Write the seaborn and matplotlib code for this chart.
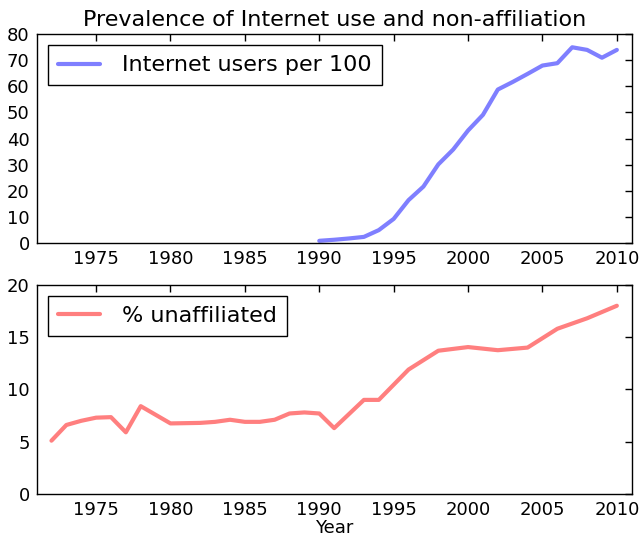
import numpy as np
import pandas as pd
import seaborn as sns
import matplotlib
matplotlib.use("Agg")
import matplotlib.pyplot as plt

# Internet users per 100 people
net_years = list(range(1990, 2011))
net_users = [0.8, 1.2, 1.7, 2.3, 4.9, 9.2, 16.4, 21.6, 30.1, 35.8, 43.1,
             49.1, 58.8, 61.7, 64.8, 68.0, 68.9, 75.0, 74.0, 71.0, 74.0]

# % religiously unaffiliated (survey years)
rel_years = [1972, 1973, 1974, 1975, 1976, 1977, 1978, 1980, 1982, 1983,
             1984, 1985, 1986, 1987, 1988, 1989, 1990, 1991, 1993, 1994,
             1996, 1998, 2000, 2002, 2004, 2006, 2008, 2010]
unaffiliated = [5.1, 6.6, 7.0, 7.3, 7.35, 5.9, 8.4, 6.75, 6.8, 6.9,
                7.1, 6.9, 6.9, 7.1, 7.7, 7.8, 7.7, 6.3, 9.0, 9.0,
                11.9, 13.7, 14.05, 13.75, 14.0, 15.8, 16.8, 18.0]

sns.set_style("white")
plt.rcParams['font.family'] = ['DejaVu Sans']
plt.rcParams['text.color'] = 'black'
plt.rcParams['axes.labelcolor'] = 'black'
plt.rcParams['xtick.color'] = 'black'
plt.rcParams['ytick.color'] = 'black'

df_net = pd.DataFrame({"Year": net_years, "val": net_users})
df_rel = pd.DataFrame({"Year": rel_years, "val": unaffiliated})

fig = plt.figure(figsize=(6.42, 5.35), dpi=100)
ax1 = fig.add_axes([0.057, 0.546, 0.927, 0.390])
ax2 = fig.add_axes([0.057, 0.0766, 0.927, 0.391])

sns.lineplot(data=df_net, x="Year", y="val", ax=ax1, color="blue", alpha=0.5,
             linewidth=3, label="Internet users per 100")
sns.lineplot(data=df_rel, x="Year", y="val", ax=ax2, color="red", alpha=0.5,
             linewidth=3, label="% unaffiliated")

ax1.set_ylim(0, 80)
ax1.set_yticks(range(0, 81, 10))
ax2.set_ylim(0, 20)
ax2.set_yticks([0, 5, 10, 15, 20])
for ax in (ax1, ax2):
    ax.set_xlim(1971, 2011)
    ax.set_xticks([1975, 1980, 1985, 1990, 1995, 2000, 2005, 2010])
    ax.tick_params(axis='both', which='both', direction='in', length=5,
                   width=1, top=True, right=True, labelsize=13, color='black',
                   labelcolor='black', pad=5)
    for s in ax.spines.values():
        s.set_color('black')
        s.set_linewidth(1)
        s.set_visible(True)
    ax.set_ylabel("")
    leg = ax.legend(loc='upper left', fontsize=16, frameon=True, fancybox=False,
                    edgecolor='black', framealpha=1, borderaxespad=0.5,
                    borderpad=0.45, handlelength=1.9, handletextpad=1.0)
    leg.get_frame().set_linewidth(1)
    for t in leg.get_texts():
        t.set_color('black')

ax1.set_xlabel("")
ax2.set_xlabel("Year", fontsize=13, labelpad=0, color='black')
ax1.set_title("Prevalence of Internet use and non-affiliation", fontsize=16,
              pad=6, color='black')

fig.savefig("out.png", dpi=100)
